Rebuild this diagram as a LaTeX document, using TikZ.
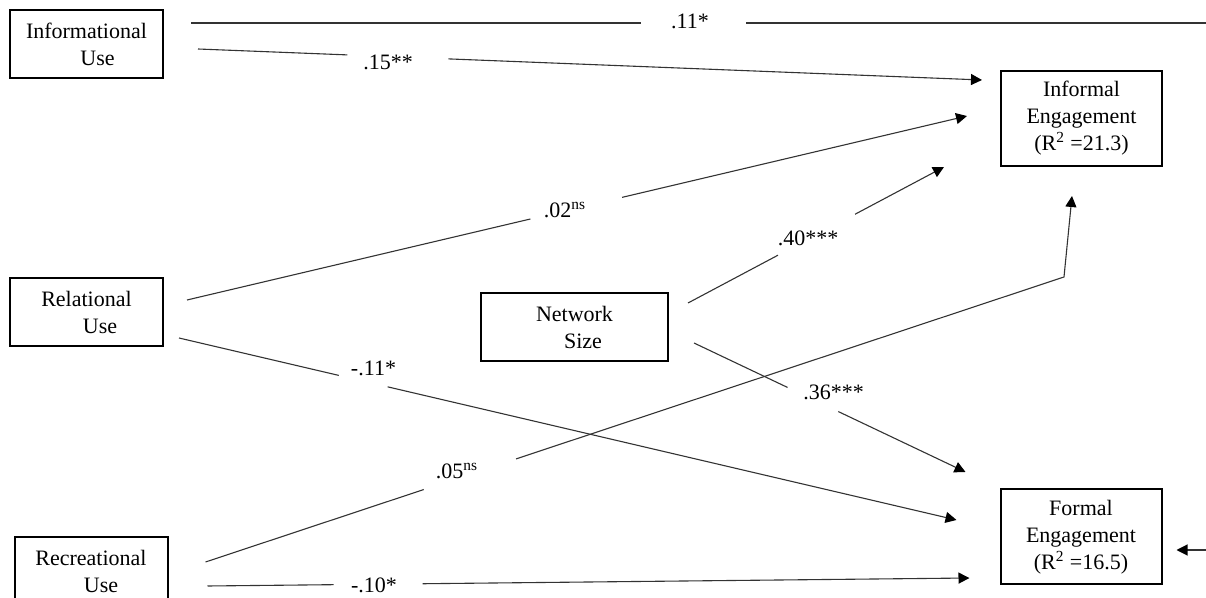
\documentclass[tikz,border=0pt]{standalone}
\usepackage{fontspec}
\setmainfont{Liberation Serif}
\usetikzlibrary{arrows.meta,calc}
\newcommand{\indentby}[1]{\hspace*{#1pt}}
\tikzset{every node/.style={font=\fontsize{11}{13.5}\selectfont},
  varbox/.style={draw=black, line width=1pt, align=center, inner sep=0pt, minimum width=76.5pt, minimum height=34pt},
  outbox/.style={varbox, minimum width=80.5pt, minimum height=47.5pt},
  link/.style={black!80, line width=0.55pt, -{Triangle[length=5.5pt,width=5.5pt,color=black]}},
  breakgap/.style={fill=white, sloped, inner sep=0pt, minimum height=4pt, minimum width=#1},
  coef/.style={inner sep=0pt}}

\begin{document}
\begin{tikzpicture}[x=0.5pt,y=-0.5pt]
  \useasboundingbox (0,0) rectangle (1206,598);
  % predictors
  \node[varbox] (info) at ( 86.5, 44.5) {Informational\\\indentby{11}Use};
  \node[varbox] (rel)  at ( 86.5,312)   {Relational\\\indentby{13.5}Use};
  \node[varbox] (rec)  at ( 91,  571)   {Recreational\\\indentby{10}Use};
  \node[varbox, minimum width=93.5pt] (ns) at (574.5,327.5) {Network\\\indentby{8.5}Size};
  % outcomes
  \node[outbox] (ie) at (1081.5,118.5) {Informal\\Engagement\\(R\textsuperscript{2} =21.3)};
  \node[outbox] (fe) at (1081,  537)   {Formal\\Engagement\\(R\textsuperscript{2} =16.5)};
  \coordinate (kink) at (1064,277);

  % paths
  \draw[link] ($(info.east)+(27,-21.5)$) -- node[breakgap=52.5pt, pos=.49] {} ++(1025,0)
              |- ($(fe.east)+(14,13)$);
  \draw[link] ($(info.east)+(34,4.5)$) -- node[breakgap=50.5pt, pos=.255] {} ($(ie.west)+(-18,-38.5)$);
  \draw[link] ($(rel.east)+(23,-12)$) -- node[breakgap=47pt, pos=.499] {} ($(ie.west)+(-33,-2.5)$);
  \draw[link] ($(ns.east)+(19,-24.5)$) -- node[breakgap=43.5pt, pos=.502] {} ($(ie.west)+(-56,48.5)$);
  \draw[link] ($(rec.east)+(37,-9)$) -- node[breakgap=48.5pt, pos=.308] {} (kink)
              -- ($(ie.south)+(-9.5,29)$);
  \draw[link] ($(rel.east)+(15,26)$) -- node[breakgap=25pt, pos=.237] {} ($(fe.west)+(-43,-17)$);
  \draw[link] ($(ns.east)+(25,15.5)$) -- node[breakgap=28pt, pos=.438] {} ($(fe.west)+(-34,-65)$);
  \draw[link] ($(rec.east)+(39,15)$) -- node[breakgap=44.5pt, pos=.224] {} ($(fe.west)+(-30,41)$);

  % coefficients
  \node[coef] (c11) at (690, 21)   {.11*};
  \node[coef] (c15) at (388, 62)   {.15**};
  \node[coef] (c02) at (565,210)   {.02\textsuperscript{ns}};
  \node[coef] (c40) at (808,238)   {.40***};
  \node[coef] (c05) at (457,471)   {.05\textsuperscript{ns}};
  \node[coef] (m11) at (373.5,368) {-.11*};
  \node[coef] (c36) at (833.5,392) {.36***};
  \node[coef] (m10) at (374,585)   {-.10*};
\end{tikzpicture}
\end{document}
